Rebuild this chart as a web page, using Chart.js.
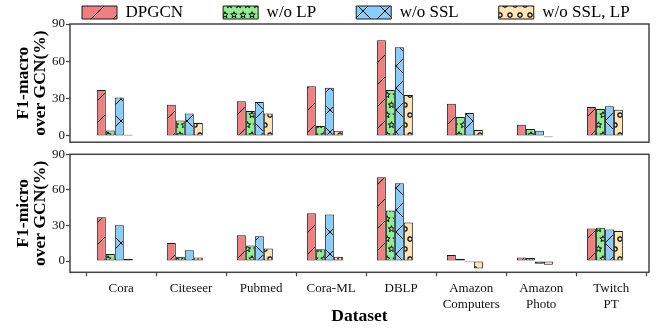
<!DOCTYPE html>
<html>
<head>
<meta charset="utf-8">
<script src="https://cdn.jsdelivr.net/npm/chart.js@4.4.0/dist/chart.umd.min.js"></script>
<style>
  html, body { margin: 0; padding: 0; background: #fff; }
  #wrap { position: relative; width: 662px; height: 328px; overflow: hidden; }
  #wrap canvas { position: absolute; left: 0; }
  #macroChart { top: 0; }
  #microChart { top: 144px; }
</style>
</head>
<body>
<div id="wrap">
  <canvas id="macroChart" width="662" height="151"></canvas>
  <canvas id="microChart" width="662" height="184"></canvas>
</div>
<script>
const seriesNames = ['DPGCN', 'w/o LP', 'w/o SSL', 'w/o SSL, LP'];
const tickLabels = ['Cora', 'Citeseer', 'Pubmed', 'Cora-ML', 'DBLP',
  ['Amazon', 'Computers'], ['Amazon', 'Photo'], ['Twitch', 'PT']];
const yTicks = [0, 30, 60, 90];

// F1-macro gain over GCN (%)
const macroDPGCN   = [37, 25, 28, 40, 77, 26, 9, 23.3];
const macroNoLP    = [4.5, 12.5, 20, 8, 37, 15.2, 5.6, 21.7];
const macroNoSSL   = [31, 18, 27.3, 38.7, 71.4, 18.4, 4.3, 23.8];
const macroNoSSLLP = [1, 10.4, 18, 4.3, 33, 4.8, -1, 21];

// F1-micro gain over GCN (%)
const microDPGCN   = [37, 15.3, 21.8, 40.2, 70.7, 5, 3, 27.5];
const microNoLP    = [6, 3.7, 13, 10, 42.7, 2, 2.5, 28];
const microNoSSL   = [30.2, 9, 21, 39.3, 65.6, -0.8, -2.2, 26.6];
const microNoSSLLP = [1.7, 3, 10.5, 3.7, 32.5, -6.4, -3.1, 25.4];

const fills = ['#F08080', '#90EE90', '#87CEFA', '#FFE4B5'];
const hatchKinds = ['slash', 'star', 'cross', 'circle'];
const SERIF = "'Liberation Serif', 'Times New Roman', serif";

function starPath(g, cx, cy, ro, ri) {
  for (let k = 0; k < 10; k++) {
    const r = k % 2 === 0 ? ro : ri;
    const a = -Math.PI / 2 + k * Math.PI / 5;
    const px = cx + r * Math.cos(a), py = cy + r * Math.sin(a);
    if (k === 0) g.moveTo(px, py); else g.lineTo(px, py);
  }
  g.closePath();
}

function hatch(kind, color) {
  const c = document.createElement('canvas');
  let w = 22, h = 22;
  if (kind === 'star') { w = 9; h = 20; }
  if (kind === 'circle') { w = 10; h = 20; }
  c.width = w; c.height = h;
  const g = c.getContext('2d');
  g.fillStyle = color;
  g.fillRect(0, 0, w, h);
  g.strokeStyle = '#000';
  g.lineWidth = 1;
  g.beginPath();
  if (kind === 'slash' || kind === 'cross') {
    for (let k = -1; k <= 1; k++) { g.moveTo(k * w, h); g.lineTo(k * w + w, 0); }
  }
  if (kind === 'cross') {
    for (let k = -1; k <= 1; k++) { g.moveTo(k * w, 0); g.lineTo(k * w + w, h); }
  }
  g.stroke();
  if (kind === 'star') {
    [[4.5, 5], [0, 15], [9, 15]].forEach(p => { g.beginPath(); starPath(g, p[0], p[1], 3.3, 1.4); g.stroke(); });
  }
  if (kind === 'circle') {
    g.lineWidth = 1.2;
    [[5, 5], [0, 15], [10, 15]].forEach(p => { g.beginPath(); g.arc(p[0], p[1], 2.1, 0, Math.PI * 2); g.stroke(); });
  }
  return g.createPattern(c, 'repeat');
}

const patterns = fills.map((f, i) => hatch(hatchKinds[i], f));

const framePlugin = {
  id: 'frame',
  afterDatasetsDraw(chart) {
    const { ctx, chartArea: a } = chart;
    ctx.save();
    ctx.strokeStyle = '#444';
    ctx.lineWidth = 1.5;
    ctx.strokeRect(a.left, a.top, a.right - a.left, a.bottom - a.top);
    ctx.restore();
  }
};

// keep the legend on one row and move it where the reference draws it
const legendShift = {
  id: 'legendShift',
  afterInit(chart) {
    const lg = chart.legend;
    if (!lg) return;
    const fit = lg.fit;
    lg.fit = function () { this.maxWidth = 800; fit.call(this); };
  },
  beforeDraw(chart) {
    if (chart.legend && chart.options.plugins.legend.display) {
      chart.legend.left = 42;
      chart.legend.right = 800;
      chart.legend.top = -36;
    }
  }
};

function buildChart(id, series, cfg) {
  const datasets = series.map((vals, i) => ({
    label: seriesNames[i],
    data: vals.map((y, x) => ({ x, y })),
    backgroundColor: patterns[i],
    borderColor: '#1a1a1a',
    borderWidth: 1,
    borderSkipped: false,
    categoryPercentage: 0.514,
    barPercentage: 1.0
  }));

  return new Chart(document.getElementById(id), {
    type: 'bar',
    data: { datasets },
    plugins: [framePlugin, legendShift],
    options: {
      responsive: false,
      animation: false,
      layout: { padding: cfg.padding },
      plugins: {
        tooltip: { enabled: false },
        legend: {
          display: cfg.legend,
          position: 'top',
          align: 'start',
          maxHeight: 24,
          labels: {
            boxWidth: 35,
            boxHeight: 13,
            padding: 40,
            color: '#000',
            font: { family: SERIF, size: 17 }
          }
        }
      },
      scales: {
        x: {
          type: 'linear',
          display: cfg.showX,
          min: -0.64,
          max: 7.63,
          offset: false,
          afterBuildTicks: s => { s.ticks = tickLabels.map((_, i) => ({ value: i + 0.09 })); },
          afterFit: s => { if (cfg.xHeight) s.height = cfg.xHeight; },
          grid: { drawOnChartArea: false, tickLength: 4, color: '#444', tickWidth: 1.2 },
          border: { display: false },
          ticks: {
            autoSkip: false,
            maxRotation: 0,
            padding: 4,
            color: '#111',
            font: { family: SERIF, size: 13, lineHeight: 1.27 },
            callback: (v, i) => tickLabels[i]
          },
          title: {
            display: true,
            text: 'Dataset',
            color: '#000',
            padding: { top: 0, bottom: 1 },
            font: { family: SERIF, size: 17.5, weight: 'bold', lineHeight: 1.2 }
          }
        },
        y: {
          min: cfg.yMin,
          max: 90,
          afterBuildTicks: s => { s.ticks = yTicks.map(v => ({ value: v })); },
          afterFit: s => { s.width = 70; },
          grid: { drawOnChartArea: false, tickLength: 4, color: '#444', tickWidth: 1.2 },
          border: { display: false },
          ticks: {
            padding: 1,
            color: '#111',
            font: { family: SERIF, size: 13 }
          },
          title: {
            display: true,
            text: cfg.yTitle,
            color: '#000',
            padding: { top: 14.25 },
            font: { family: SERIF, size: 17.5, weight: 'bold', lineHeight: 1.0 }
          }
        }
      }
    }
  });
}

buildChart('macroChart', [macroDPGCN, macroNoLP, macroNoSSL, macroNoSSLLP], {
  legend: true,
  showX: false,
  yMin: -5,
  yTitle: ['F1-macro', 'over GCN(%)'],
  padding: { top: 0, right: 13, bottom: 8.7, left: 0 }
});

buildChart('microChart', [microDPGCN, microNoLP, microNoSSL, microNoSSLLP], {
  legend: false,
  showX: true,
  xHeight: 55.7,
  yMin: -9.5,
  yTitle: ['F1-micro', 'over GCN(%)'],
  padding: { top: 10.3, right: 13, bottom: 0, left: 0 }
});
</script>
</body>
</html>
